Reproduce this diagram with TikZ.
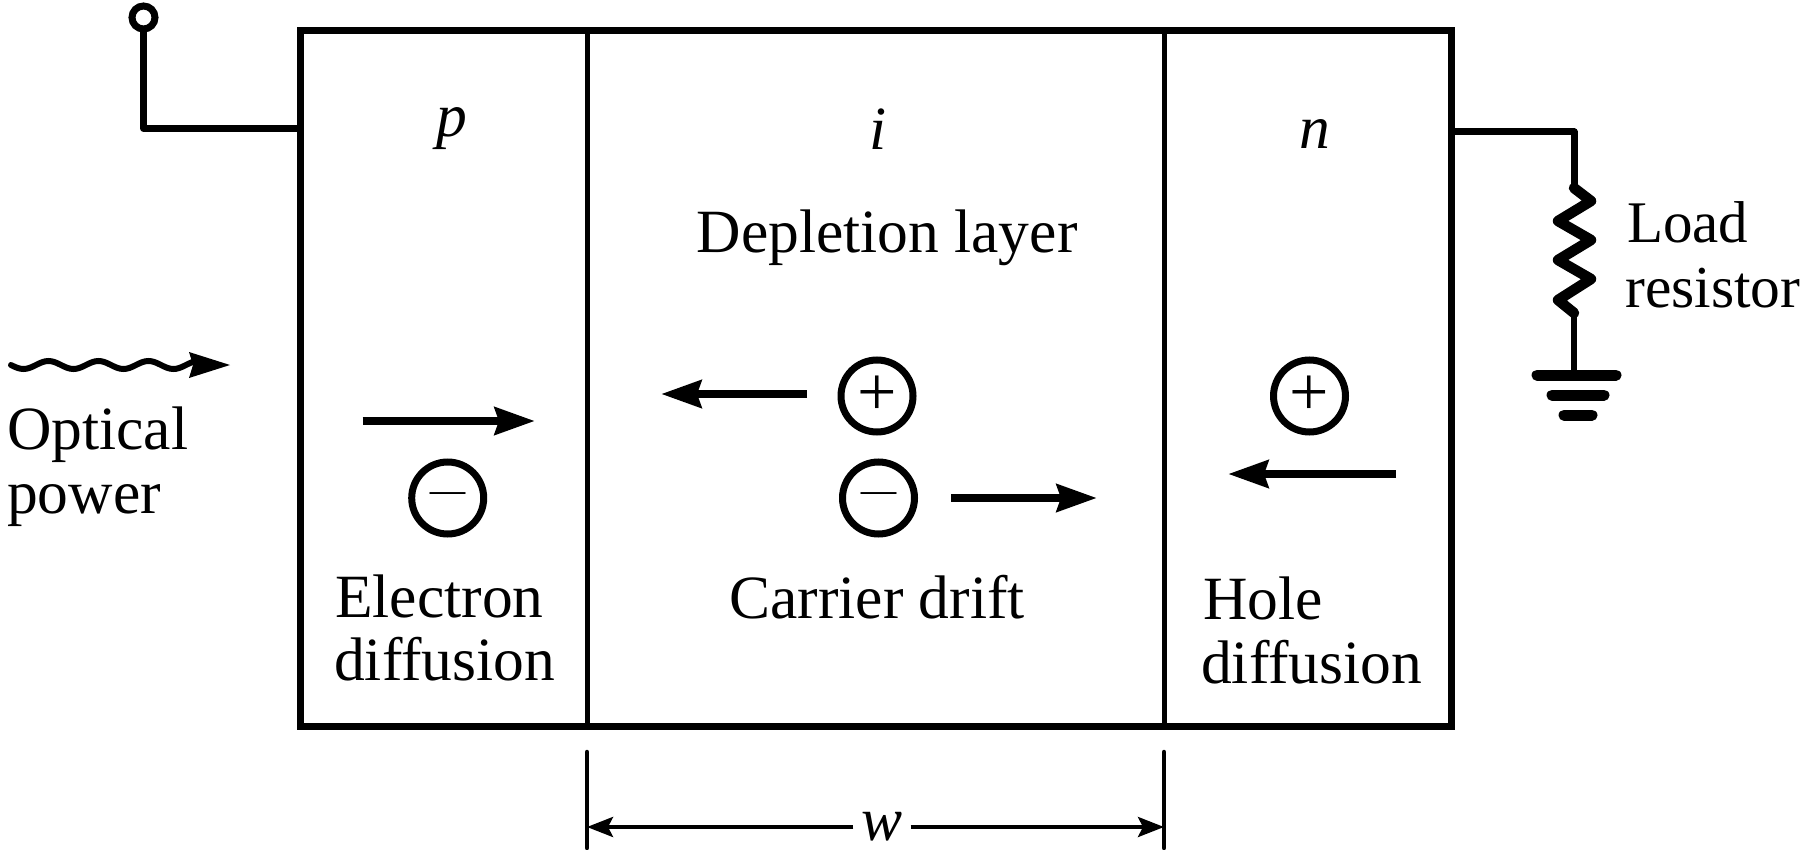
\documentclass[tikz,border=0pt]{standalone}
\usepackage{fontspec}
\setmainfont{Liberation Serif}
\usetikzlibrary{arrows.meta}
\tikzset{
  x=1pt,y=-1pt,
  label text/.style={font=\fontsize{61.5}{61.5}\selectfont,inner sep=0pt,anchor=base west,text=black},
  center text/.style={label text,anchor=base},
  ital text/.style={center text,font=\fontsize{61.5}{61.5}\selectfont\itshape},
  carrier/.style={circle,draw=black,line width=7pt,minimum size=72pt,inner sep=0pt,font=\fontsize{70}{70}\selectfont},
  bigarrow/.style={line width=8.5pt,-{Stealth[length=40pt,width=27pt,inset=4pt]}},
  wire/.style={line width=6.5pt,line cap=round,line join=round},
  divider/.style={line width=4.5pt},
  dim/.style={line width=4pt,-{Stealth[length=26pt,width=20pt,inset=5pt]}},
  gnd/.style={line width=11pt,line cap=round},
}
\newcommand{\thinminus}{\raisebox{-5pt}{\scalebox{1}[0.55]{–}}}
\begin{document}
\begin{tikzpicture}
\useasboundingbox (0,0) rectangle (1803,850);
% device
\node[draw=black,line width=7pt,outer sep=0pt,minimum width=1151pt,minimum height=696.5pt,inner sep=0pt,anchor=north west] (box) at (300,30.3) {};
\coordinate (d1t) at (587.5,30.3); \coordinate (d1b) at (587.5,726.8);
\coordinate (d2t) at (1164.5,30.3); \coordinate (d2b) at (1164.5,726.8);
\draw[divider] (d1t) -- (d1b);
\draw[divider] (d2t) -- (d2b);
% left terminal
\node[circle,draw=black,line width=7pt,minimum size=23pt,inner sep=0pt] (term) at (143.5,17.5) {};
\coordinate (leadL) at (300,128.6);
\draw[wire,line cap=butt] (term.south) |- (leadL);
% right lead, resistor, ground
\coordinate (leadR) at (1451,132);
\coordinate (rtop) at (1574,188);
\coordinate (rbot) at (1574,313);
\coordinate (g1) at (1574,375);
\draw[wire,line cap=butt,line width=7pt] (leadR) -| (rtop);
\draw[line width=10.5pt,line join=round,line cap=round] (rtop) -- (1591,201) -- (1558,221) -- (1591,240) -- (1558,260) -- (1591,279) -- (1558,300) -- (rbot);
\draw[line width=6pt] (rbot) -- (g1);
\coordinate (g1a) at (1537,375); \coordinate (g1b) at (1616,375);
\coordinate (g2a) at (1552,395); \coordinate (g2b) at (1604,395);
\coordinate (g3a) at (1564,415); \coordinate (g3b) at (1592,415);
\draw[gnd] (g1a) -- (g1b);
\draw[gnd] (g2a) -- (g2b);
\draw[gnd] (g3a) -- (g3b);
% optical power
\coordinate (wtip) at (230,365);
\draw[line width=6pt,line cap=round] plot[smooth,samples=60,domain=11:195] (\x,{365+4*sin((\x-11)*7.2)});
\fill[black] (wtip) -- (189,352) -- (193,365) -- (189,378) -- cycle;
\node[label text] (optical) at (7,449) {Optical};
\node[label text] (power) at (7,513) {power};
% region letters
\node[ital text] (pl) at (451.5,137) {p};
\node[ital text] (il) at (878.5,150) {i};
\node[ital text] (nl) at (1315,149) {n};
\node[center text] (depl) at (887,252) {Depletion layer};
% carriers
\node[carrier] (em1) at (447.7,498) {\thinminus};
\node[carrier] (hm) at (877,396) {\raisebox{-3pt}{+}};
\node[carrier] (em2) at (878.5,498) {\thinminus};
\node[carrier] (hn) at (1309.5,396) {\raisebox{-3pt}{+}};
% arrows
\coordinate (a1s) at (362.5,421); \coordinate (a1e) at (535,421);
\draw[bigarrow] (a1s) -- (a1e);
\coordinate (a2s) at (807,394); \coordinate (a2e) at (661,394);
\draw[bigarrow] (a2s) -- (a2e);
\coordinate (a3s) at (951,498); \coordinate (a3e) at (1097,498);
\draw[bigarrow] (a3s) -- (a3e);
\coordinate (a4s) at (1396,474); \coordinate (a4e) at (1228,474);
\draw[bigarrow] (a4s) -- (a4e);
% region captions
\node[label text] (el1) at (335,617) {Electron};
\node[label text] (el2) at (334,680) {diffusion};
\node[center text] (cd) at (877,618) {Carrier drift};
\node[label text] (hl1) at (1203,619) {Hole};
\node[label text] (hl2) at (1201,683) {diffusion};
\node[label text,font=\fontsize{59}{59}\selectfont] (ld1) at (1627,243) {Load};
\node[label text,font=\fontsize{59.5}{59.5}\selectfont] (ld2) at (1625,307) {resistor};
% width
\coordinate (b1t) at (587,752); \coordinate (b1b) at (587,848);
\coordinate (b2t) at (1164,752); \coordinate (b2b) at (1164,848);
\draw[divider,line cap=round] (b1t) -- (b1b);
\draw[divider,line cap=round] (b2t) -- (b2b);
\node[ital text,inner xsep=8pt] (wl) at (882,840) {w};
\coordinate (wL) at (587,827); \coordinate (wR) at (1164,827);
\draw[dim] (wl.west |- wL) -- (wL);
\draw[dim] (wl.east |- wR) -- (wR);
\end{tikzpicture}
\end{document}
